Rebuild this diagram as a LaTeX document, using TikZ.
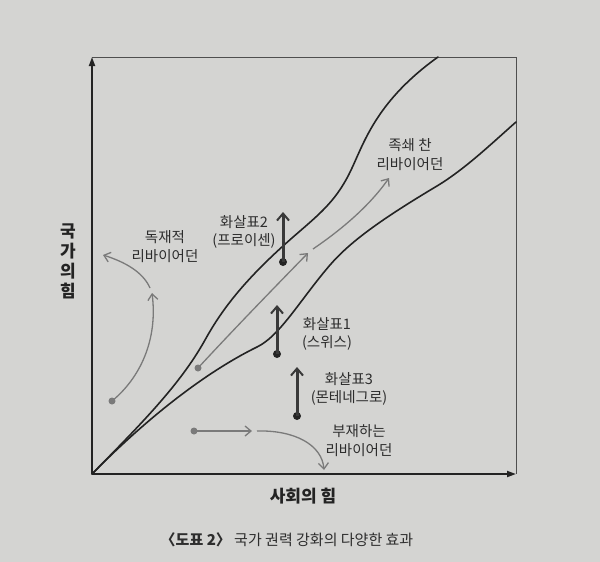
\documentclass[tikz,border=0pt]{standalone}
\usepackage{fontspec}
\setmainfont{Noto Sans CJK KR}
\usetikzlibrary{arrows.meta}
\definecolor{paper}{RGB}{212,212,210}
\definecolor{ink}{RGB}{35,35,35}
\definecolor{txt}{RGB}{45,45,45}
\definecolor{garrow}{RGB}{122,122,122}
\tikzset{
  axisline/.style={draw=ink, line width=1.8pt, -{Triangle[length=9pt,width=6pt]}},
  frameline/.style={draw=ink!80, line width=0.9pt},
  corridor/.style={draw=ink, line width=1.6pt, line cap=round},
  garr/.style={draw=garrow, line width=1.3pt, -{Straight Barb[length=6pt,width=10pt]}},
  barr/.style={draw=ink!90, line width=3pt, -{Straight Barb[length=7pt,width=12pt,line width=2pt]}},
  gdot/.style={circle, fill=garrow, inner sep=0pt, minimum size=7pt},
  bdot/.style={circle, fill=ink, inner sep=0pt, minimum size=8pt},
  lbl/.style={text=txt, font=\fontsize{14.5}{17}\selectfont, align=center, inner sep=0pt},
  axlbl/.style={text=ink, font=\fontsize{17}{20}\bfseries\selectfont, align=center, inner sep=0pt},
}
\begin{document}
\begin{tikzpicture}[x=1pt,y=-1pt]
\fill[paper] (0,0) rectangle (600,562);
\useasboundingbox (0,0) rectangle (600,562);
% frame and axes
\coordinate (O) at (92,474);
\coordinate (Ytop) at (92,57);
\coordinate (Xend) at (516,474);
\coordinate (TR) at (516,57);
\coordinate (Uend) at (438,57);
\coordinate (Lend) at (516,122);
\draw[frameline] (Ytop) -- (TR) -- (Xend);
\draw[axisline] (O) -- (Ytop);
\draw[axisline] (O) -- (Xend);
% corridor curves
\draw[corridor] (O) .. controls (140,425) and (180,385) .. (205,340)
  .. controls (220,313) and (240,285) .. (283,246)
  .. controls (315,217) and (335,205) .. (352,168)
  .. controls (365,140) and (378,100) .. (Uend);
\draw[corridor] (O) .. controls (140,425) and (200,375) .. (257,347)
  .. controls (280,336) and (300,300) .. (330,265)
  .. controls (350,242) and (380,220) .. (437,186)
  .. controls (465,169) and (490,145) .. (Lend);
% gray arrows: shackled leviathan
\node[gdot] (gd1) at (198,368) {};
\coordinate (g1tip) at (308,253);
\coordinate (g2start) at (313,249);
\coordinate (g2tip) at (389,178);
\draw[garr] (gd1.center) .. controls (235,328) and (272,290) .. (g1tip);
\draw[garr] (g2start) .. controls (338,232) and (368,208) .. (g2tip);
% despotic leviathan
\node[gdot] (gd2) at (112,401) {};
\coordinate (d1tip) at (152,293);
\coordinate (d2start) at (150,288);
\coordinate (d2tip) at (103,255);
\draw[garr] (gd2.center) .. controls (140,378) and (158,340) .. (d1tip);
\draw[garr] (d2start) .. controls (143,272) and (125,262) .. (d2tip);
% absent leviathan
\node[gdot] (gd3) at (194,431) {};
\coordinate (a1tip) at (252,431);
\coordinate (a2start) at (257,431);
\coordinate (a2tip) at (324,470);
\draw[garr] (gd3.center) -- (a1tip);
\draw[garr] (a2start) .. controls (295,430) and (322,445) .. (a2tip);
% black arrows
\node[bdot] (b2) at (283,262) {};
\coordinate (b2tip) at (283,212);
\draw[barr] (b2.center) -- (b2tip);
\node[bdot] (b1) at (277,354) {};
\coordinate (b1tip) at (277,305);
\draw[barr] (b1.center) -- (b1tip);
\node[bdot] (b3) at (297,416) {};
\coordinate (b3tip) at (297,367);
\draw[barr] (b3.center) -- (b3tip);
% labels
\node[lbl] (l2) at (244,232) {화살표2\\[1pt](프로이센)};
\node[lbl] (l1) at (327,334) {화살표1\\[1pt](스위스)};
\node[lbl] (l3) at (349,389) {화살표3\\[1pt](몬테네그로)};
\node[lbl] (ldes) at (165,247) {독재적\\[2pt]리바이어던};
\node[lbl] (lsha) at (410,155) {족쇄 찬\\[2pt]리바이어던};
\node[lbl] (labs) at (359,441) {부재하는\\[2pt]리바이어던};
% axis labels
\node[axlbl] (ylab) at (68,261) {국\\가\\의\\힘};
\node[axlbl] (xlab) at (303,496) {사회의 힘};
\node[text=txt, font=\fontsize{15}{18}\selectfont, inner sep=0pt] (cap) at (287,540) {\textbf{〈도표 2〉} 국가 권력 강화의 다양한 효과};
\end{tikzpicture}
\end{document}
